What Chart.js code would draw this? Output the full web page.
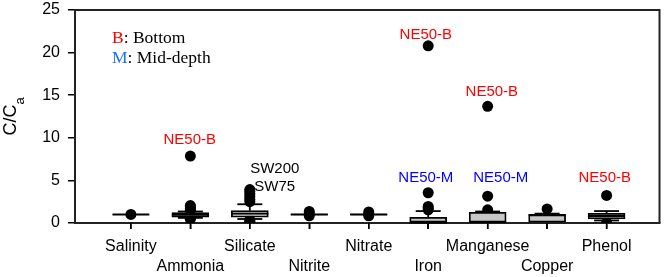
<!DOCTYPE html>
<html>
<head>
<meta charset="utf-8">
<script src="https://cdn.jsdelivr.net/npm/chart.js@4/dist/chart.umd.min.js"></script>
<style>
  html, body { margin: 0; padding: 0; background: #fff; }
  #wrap { width: 665px; height: 277px; }
</style>
</head>
<body>
<div id="wrap"><canvas id="c"></canvas></div>
<script>
// Box plot of C/Ca per parameter; boxes are floating bars, whiskers/medians drawn by a small plugin.
var CATEGORIES = ["Salinity", "Ammonia", "Silicate", "Nitrite", "Nitrate", "Iron", "Manganese", "Copper", "Phenol"];
var Q1       = [1.0, 0.67, 0.67, 0.95, 0.95, 0.0,  0.0,  0.0,  0.47];
var MEDIAN   = [1.0, 0.95, 1.10, 1.0,  1.0,  0.05, 0.10, 0.90, 0.82];
var Q3       = [1.0, 1.22, 1.45, 1.05, 1.05, 0.67, 1.25, 1.02, 1.14];
var WHISK_LO = [1.0, 0.60, 0.47, 0.95, 0.95, 0.0,  0.0,  0.0,  0.30];
var WHISK_HI = [1.0, 1.35, 2.20, 1.05, 1.05, 1.40, 1.35, 1.10, 1.40];
var OUTLIERS = [
  [1.0],
  [0.45, 0.55, 1.5, 1.7, 1.9, 2.05, 7.85],
  [0.2, 0.35, 2.5, 2.8, 3.1, 3.4, 3.7, 3.93],
  [0.85, 1.1, 1.35],
  [0.85, 1.1, 1.3],
  [1.55, 1.75, 1.95, 3.55, 20.8],
  [1.55, 3.15, 13.7],
  [1.65],
  [0.08, 3.23]
];
var Y_MAX = 25;
var Y_STEP = 5;

// station labels next to outliers, placed in data coordinates
var NOTE_TEXT  = ["NE50-B", "SW200", "SW75", "NE50-B", "NE50-B", "NE50-M", "NE50-M", "NE50-B"];
var NOTE_X     = [0.99, 2.42, 2.42, 4.96, 6.07, 4.96, 6.22, 7.97];
var NOTE_Y     = [9.8, 6.34, 4.28, 22.07, 15.41, 5.34, 5.34, 5.34];
var NOTE_COLOR = ["#ff0000", "#000000", "#000000", "#ff0000", "#ff0000", "#0000ff", "#0000ff", "#ff0000"];

var SANS = "'Liberation Sans', Arial, sans-serif";
var SERIF = "'Liberation Serif', 'Times New Roman', serif";
var BOX_W = 0.62;   // in category units
var CAP_W = 0.42;

(function () {
  "use strict";

  var boxData = CATEGORIES.map(function (c, i) { return { x: i, y: [Q1[i], Q3[i]] }; });
  var pointData = [];
  OUTLIERS.forEach(function (list, i) {
    list.forEach(function (v) { pointData.push({ x: i, y: v }); });
  });

  function hline(ctx, x0, x1, y) {
    ctx.beginPath(); ctx.moveTo(x0, y); ctx.lineTo(x1, y); ctx.stroke();
  }
  function vline(ctx, x, y0, y1) {
    ctx.beginPath(); ctx.moveTo(x, y0); ctx.lineTo(x, y1); ctx.stroke();
  }

  var boxPlugin = {
    id: "boxExtras",
    afterDatasetsDraw: function (chart) {
      var ctx = chart.ctx, xs = chart.scales.x, ys = chart.scales.y;
      ctx.save();
      ctx.strokeStyle = "#000";
      ctx.lineWidth = 1.8;
      CATEGORIES.forEach(function (c, i) {
        var cx = xs.getPixelForValue(i);
        var bl = xs.getPixelForValue(i - BOX_W / 2), br = xs.getPixelForValue(i + BOX_W / 2);
        var cl = xs.getPixelForValue(i - CAP_W / 2), cr = xs.getPixelForValue(i + CAP_W / 2);
        if (WHISK_HI[i] > Q3[i]) {
          vline(ctx, cx, ys.getPixelForValue(Q3[i]), ys.getPixelForValue(WHISK_HI[i]));
          hline(ctx, cl, cr, ys.getPixelForValue(WHISK_HI[i]));
        }
        if (WHISK_LO[i] < Q1[i]) {
          vline(ctx, cx, ys.getPixelForValue(Q1[i]), ys.getPixelForValue(WHISK_LO[i]));
          hline(ctx, cl, cr, ys.getPixelForValue(WHISK_LO[i]));
        }
        hline(ctx, bl, br, ys.getPixelForValue(MEDIAN[i]));
      });
      ctx.restore();
    },
    afterDraw: function (chart) {
      var ctx = chart.ctx, a = chart.chartArea, xs = chart.scales.x, ys = chart.scales.y;
      ctx.save();
      // frame: top and right edges
      ctx.strokeStyle = "#222";
      ctx.lineWidth = 2;
      ctx.beginPath();
      ctx.moveTo(a.left, a.top); ctx.lineTo(a.right, a.top); ctx.lineTo(a.right, a.bottom);
      ctx.stroke();

      // category tick marks below the axis
      ctx.strokeStyle = "#000";
      ctx.lineWidth = 1.5;
      CATEGORIES.forEach(function (c, i) {
        var px = xs.getPixelForValue(i);
        vline(ctx, px, a.bottom, a.bottom + 6);
      });

      // station notes
      ctx.font = "15px " + SANS;
      ctx.textAlign = "center";
      ctx.textBaseline = "middle";
      NOTE_TEXT.forEach(function (t, k) {
        ctx.fillStyle = NOTE_COLOR[k];
        ctx.fillText(t, xs.getPixelForValue(NOTE_X[k]), ys.getPixelForValue(NOTE_Y[k]));
      });

      // key for B / M
      ctx.font = "17.5px " + SERIF;
      ctx.textAlign = "left";
      ctx.textBaseline = "alphabetic";
      var lx = a.left + 37;
      [["B", ": Bottom", "#ff0000", 33], ["M", ": Mid-depth", "#1f6fff", 53]].forEach(function (r) {
        ctx.fillStyle = r[2];
        ctx.fillText(r[0], lx, a.top + r[3]);
        ctx.fillStyle = "#000";
        ctx.fillText(r[1], lx + ctx.measureText(r[0]).width, a.top + r[3]);
      });

      // y title C/Ca with subscript
      var mid = (a.top + a.bottom) / 2;
      ctx.translate(16, mid);
      ctx.rotate(-Math.PI / 2);
      ctx.fillStyle = "#000";
      ctx.font = "18px " + SANS;
      var wMain = ctx.measureText("C/C").width;
      ctx.font = "13px " + SANS;
      var wSub = ctx.measureText("a").width;
      var sx = -(wMain + wSub) / 2;
      ctx.font = "18px " + SANS;
      ctx.fillText("C/C", sx, 0);
      ctx.font = "13px " + SANS;
      ctx.fillText("a", sx + wMain, 8);
      ctx.restore();
    }
  };

  Chart.defaults.color = "#000";
  Chart.defaults.font.family = SANS;

  new Chart(document.getElementById("c"), {
    type: "scatter",
    data: {
      datasets: [
        {
          type: "bar",
          data: boxData,
          order: 0,
          backgroundColor: "#c8c8c8",
          borderColor: "#000",
          borderWidth: 1.8,
          borderSkipped: false,
          barThickness: 37,
          grouped: false
        },
        {
          type: "scatter",
          data: pointData,
          order: 1,
          pointRadius: 5.5,
          pointHoverRadius: 5.5,
          backgroundColor: "#000",
          borderWidth: 0
        }
      ]
    },
    options: {
      responsive: true,
      maintainAspectRatio: false,
      animation: false,
      devicePixelRatio: 1,
      layout: { padding: { top: 10, right: 5, left: 0, bottom: 0 } },
      plugins: { legend: { display: false }, tooltip: { enabled: false } },
      scales: {
        x: {
          type: "linear",
          offset: false,
          min: -0.94,
          max: 8.89,
          afterBuildTicks: function (s) {
            s.ticks = CATEGORIES.map(function (c, i) { return { value: i }; });
          },
          afterFit: function (s) {
            s.height = 54;
            s.paddingLeft = 0; s.paddingRight = 0;
          },
          grid: { offset: false, drawOnChartArea: false, tickLength: 6, color: "#000", lineWidth: 1.5 },
          border: { color: "#222", width: 2 },
          ticks: {
            autoSkip: false,
            maxRotation: 0,
            padding: 8,
            font: { size: 16, lineHeight: 1.25 },
            callback: function (v) {
              var i = Math.round(v);
              return i % 2 === 0 ? [CATEGORIES[i]] : ["", CATEGORIES[i]];
            }
          }
        },
        y: {
          min: 0,
          max: Y_MAX,
          afterFit: function (s) {
            s.width = 75;
            s.paddingTop = 0; s.paddingBottom = 0;
          },
          grid: { drawOnChartArea: false, tickLength: 7, color: "#000", lineWidth: 1.5 },
          border: { color: "#222", width: 2 },
          ticks: { stepSize: Y_STEP, padding: 8, font: { size: 16 } }
        }
      }
    },
    plugins: [boxPlugin]
  });
})();
</script>
</body>
</html>
